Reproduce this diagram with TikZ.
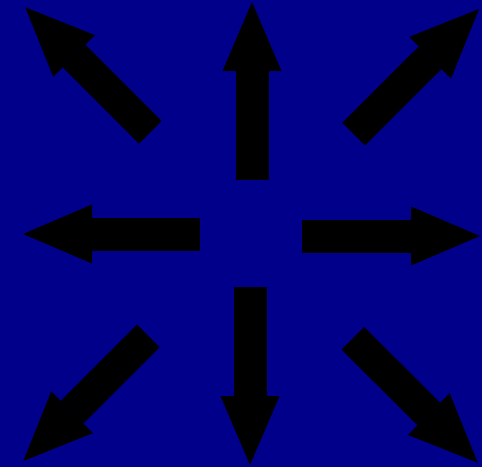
\documentclass[tikz,border=0pt]{standalone}
\usetikzlibrary{arrows.meta}
\definecolor{bgblue}{RGB}{0,0,139}
\begin{document}
\begin{tikzpicture}[x=1pt,y=-1pt,
  bigarrow/.style={line width=33pt,
    -{Triangle[length=69pt,width=59pt,line width=0pt]}}]
\fill[bgblue] (0,0) rectangle (482,467);
\useasboundingbox (0,0) rectangle (482,467);

% straight ones
\coordinate (upS) at (252,180);
\coordinate (upT) at (252,2);
\coordinate (downS) at (250,287);
\coordinate (downT) at (250,465);
\coordinate (leftS) at (200,234);
\coordinate (leftT) at (23,234);
\coordinate (rightS) at (302,236);
\coordinate (rightT) at (480,236);

% diagonal ones
\coordinate (ulS) at (150.3,132.2);
\coordinate (ulT) at (25.3,7.3);
\coordinate (urS) at (353.7,134);
\coordinate (urT) at (479,9);
\coordinate (llS) at (148.3,336);
\coordinate (llT) at (23.3,461);
\coordinate (lrS) at (352.8,338.3);
\coordinate (lrT) at (477.7,462.7);

\draw[bigarrow] (upS) -- (upT);
\draw[bigarrow] (downS) -- (downT);
\draw[bigarrow] (leftS) -- (leftT);
\draw[bigarrow] (rightS) -- (rightT);

\draw[bigarrow,line width=32pt] (ulS) -- (ulT);
\draw[bigarrow,line width=32pt] (urS) -- (urT);
\draw[bigarrow,line width=32pt] (llS) -- (llT);
\draw[bigarrow,line width=32pt] (lrS) -- (lrT);
\end{tikzpicture}
\end{document}
